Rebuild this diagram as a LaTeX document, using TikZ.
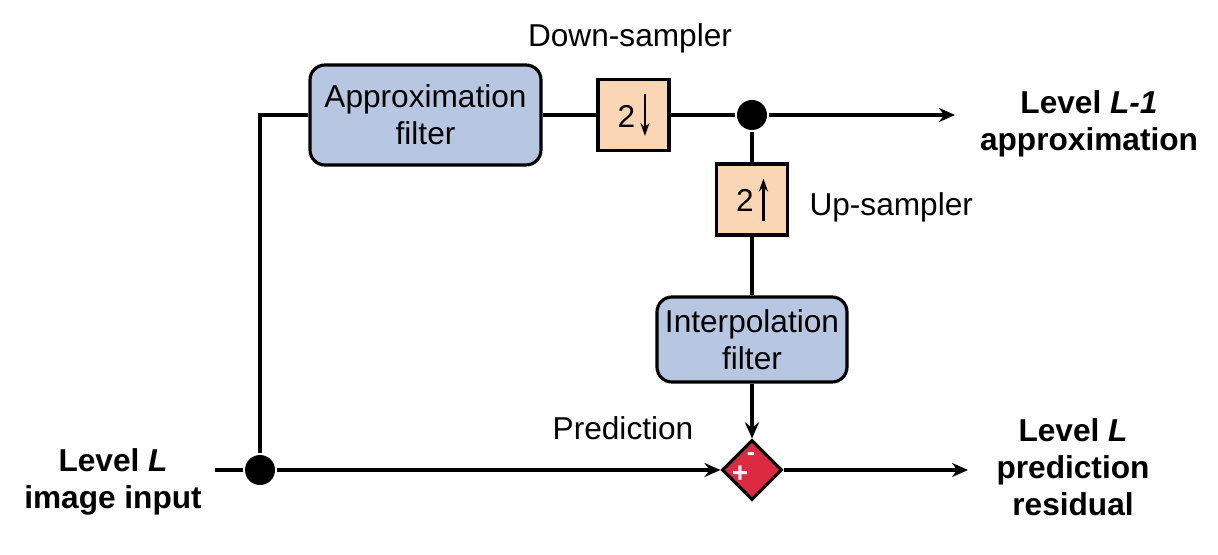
\documentclass[tikz,border=0pt]{standalone}
\usepackage{fontspec}
\setmainfont{Liberation Sans}
\usepackage{xcolor}
\usepackage{tikz}
\usetikzlibrary{positioning}
\usetikzlibrary{arrows.meta}
\usetikzlibrary{shapes.geometric}

\definecolor{filtblue}{HTML}{B8C7E1}
\definecolor{sampbox}{HTML}{FAD6B4}
\definecolor{sumred}{HTML}{DC2B40}

\begin{document}
\begin{tikzpicture}[
    line width=0.9pt,
    filt/.style={draw, fill=filtblue, rounded corners=0.15cm, align=center, inner sep=0pt},
    samp/.style={draw, fill=sampbox, minimum size=0.71cm, inner sep=0pt},
    joint/.style={circle, fill=black, minimum size=0.3cm, inner sep=0pt},
    lbl/.style={align=center, font=\fontsize{9}{10.5}\selectfont},
    arr/.style={-{Stealth[length=0.16cm, width=0.14cm]}},
    sarr/.style={-{Stealth[length=0.13cm, width=0.09cm]}, line width=0.8pt}
]
\useasboundingbox (0,0) rectangle (12.18,5.54);

%\draw[gray,very thin, step=0.5cm, opacity=0.5] (0,0) grid (12.18,5.54);

% filters and samplers
\node[filt, minimum width=2.31cm, minimum height=1cm, lbl] (approx) at (4.255,4.39) {Approximation\\filter};
\node[samp, lbl] (down) at (6.335,4.39) {2\,\raisebox{-0.6ex}{\tikz\draw[sarr] (0,0.42)--(0,0);}};
\node[joint] (split) at (7.52,4.39) {};
\node[samp, lbl] (up) at (7.52,3.545) {2\,\raisebox{-0.6ex}{\tikz\draw[sarr] (0,0)--(0,0.42);}};
\node[filt, minimum width=1.9cm, minimum height=0.85cm, lbl] (interp) at (7.52,2.145) {Interpolation\\filter};

% difference
\node[diamond, draw, fill=sumred, minimum size=0.6cm, inner sep=0pt] (diff) at (7.52,0.84) {};
\node[text=white, font=\fontsize{7}{7}\selectfont\bfseries, inner sep=0pt] (minus) at (7.51,0.97) {-};
\node[text=white, font=\fontsize{8}{8}\selectfont\bfseries, inner sep=0pt] (plus) at (7.40,0.80) {+};

\node[joint] (fork) at (2.60,0.84) {};
\coordinate (inL) at (2.15,0.84);
\coordinate (outA) at (9.55,4.39);
\coordinate (outR) at (9.68,0.84);

% top branch
\draw (fork) -- (2.60,4.39) -- (approx.west);
\draw (approx) -- (down);
\draw (down) -- (split);
\draw[arr] (split) -- (outA);
\draw (split) -- (up);
\draw (up) -- (interp);
\draw[arr] (interp) -- (diff);

% bottom branch
\draw (inL) -- (fork);
\draw[arr] (fork) -- (diff);
\draw[arr] (diff) -- (outR);

% labels
\node[lbl] (downlbl) at (6.30,5.16) {Down-sampler};
\node[lbl, right=0.08cm of up, yshift=-0.08cm] (uplbl) {Up-sampler};
\node[lbl] (predlbl) at (6.23,1.26) {Prediction};
\node[lbl] (inlbl) at (1.13,0.72) {\textbf{Level \textit{L}}\\\textbf{image input}};
\node[lbl] (approxlbl) at (10.89,4.30) {\textbf{Level \textit{L-1}}\\\textbf{approximation}};
\node[lbl] (reslbl) at (10.73,0.87) {\textbf{Level \textit{L}}\\\textbf{prediction}\\\textbf{residual}};

\end{tikzpicture}
\end{document}
